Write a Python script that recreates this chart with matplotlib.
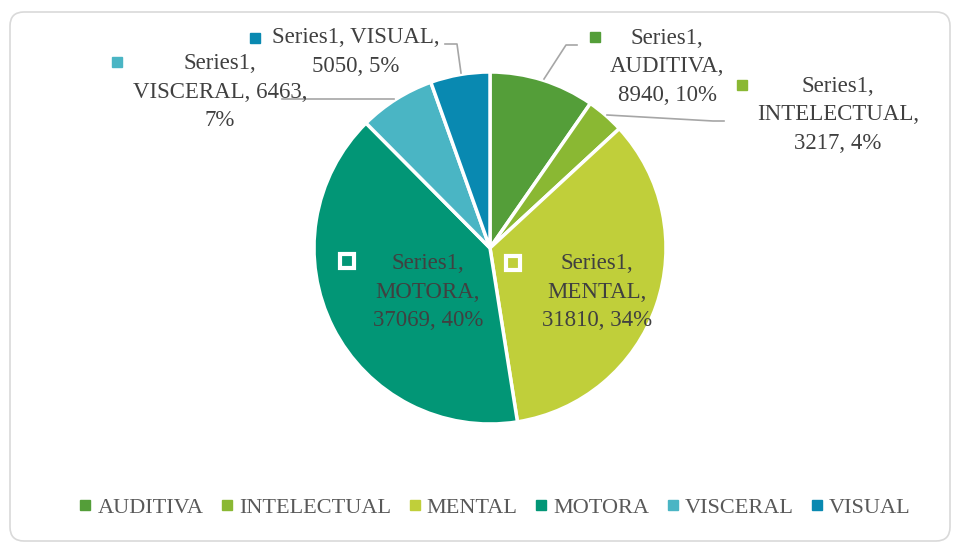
import matplotlib
matplotlib.use("Agg")
import matplotlib.pyplot as plt
from matplotlib.lines import Line2D
from matplotlib.patches import FancyBboxPatch

# data
categories = ["AUDITIVA", "INTELECTUAL", "MENTAL", "MOTORA", "VISCERAL", "VISUAL"]
values = [8940, 3217, 31810, 37069, 6463, 5050]
percents = [10, 4, 34, 40, 7, 5]
colors = ["#549e39", "#8ab833", "#c0cf3a", "#029676", "#4ab5c4", "#0989b1"]

# label layout (pixel coords): text centre, marker position, leader line
label_layout = {
    "AUDITIVA": dict(text="Series1,\nAUDITIVA,\n{v}, {p}%", xy=(667, 67), mk=(595, 37),
                     line=[(577, 45), (566, 45), (544, 79)]),
    "INTELECTUAL": dict(text="Series1,\nINTELECTUAL,\n{v}, {p}%", xy=(838, 115), mk=(742, 85),
                        line=[(607, 115), (713, 121), (724, 121)]),
    "MENTAL": dict(text="Series1,\nMENTAL,\n{v}, {p}%", xy=(597, 292), mk=(513, 263), line=None),
    "MOTORA": dict(text="Series1,\nMOTORA,\n{v}, {p}%", xy=(428, 292), mk=(347, 261), line=None),
    "VISCERAL": dict(text="Series1,\nVISCERAL, {v},\n{p}%", xy=(220, 92), mk=(117, 62),
                     line=[(282, 99), (394, 99)]),
    "VISUAL": dict(text="Series1, VISUAL,\n{v}, {p}%", xy=(356, 52), mk=(255, 38),
                   line=[(445, 44), (457, 44), (461, 73)]),
}
inside = {"MENTAL", "MOTORA"}

FONT = "Liberation Serif"
TXT = "#404040"

fig = plt.figure(figsize=(9.59, 5.49), dpi=100)
ax = fig.add_axes([0, 0, 1, 1])

ax.pie(values, colors=colors, startangle=-90, counterclock=True,
       center=(490, 248), radius=176, frame=False,
       wedgeprops=dict(edgecolor="white", linewidth=2.5))
ax.set_xlim(0, 959)
ax.set_ylim(549, 0)
ax.axis("off")

for cat, val, pct, col in zip(categories, values, percents, colors):
    lay = label_layout[cat]
    if lay["line"]:
        xs, ys = zip(*lay["line"])
        ax.plot(xs, ys, color="#a6a6a6", lw=1.2, zorder=3)
    if cat in inside:
        ax.plot(*lay["mk"], marker="s", ms=10, mfc=col, mec="white", mew=3, zorder=4)
    else:
        ax.plot(*lay["mk"], marker="s", ms=7, color=col, zorder=4)
    ax.text(*lay["xy"], lay["text"].format(v=val, p=pct), ha="center", va="center",
            fontsize=16.5, family=FONT, color=TXT, linespacing=1.45, zorder=5)

# rounded chart border
ax.add_patch(FancyBboxPatch((10, 12), 940, 529, boxstyle="round,pad=0,rounding_size=14",
                            ec="#d9d9d9", fc="none", lw=1.2))

handles = [Line2D([], [], marker="s", ls="none", ms=7, color=c) for c in colors]
fig.legend(handles, categories, loc="center", bbox_to_anchor=(0.516, 1 - 508 / 549),
           ncol=6, frameon=False, handlelength=0.6, handletextpad=0.25,
           columnspacing=0.75, prop=dict(family=FONT, size=16), labelcolor="#595959")

fig.savefig("out.png", dpi=100)
